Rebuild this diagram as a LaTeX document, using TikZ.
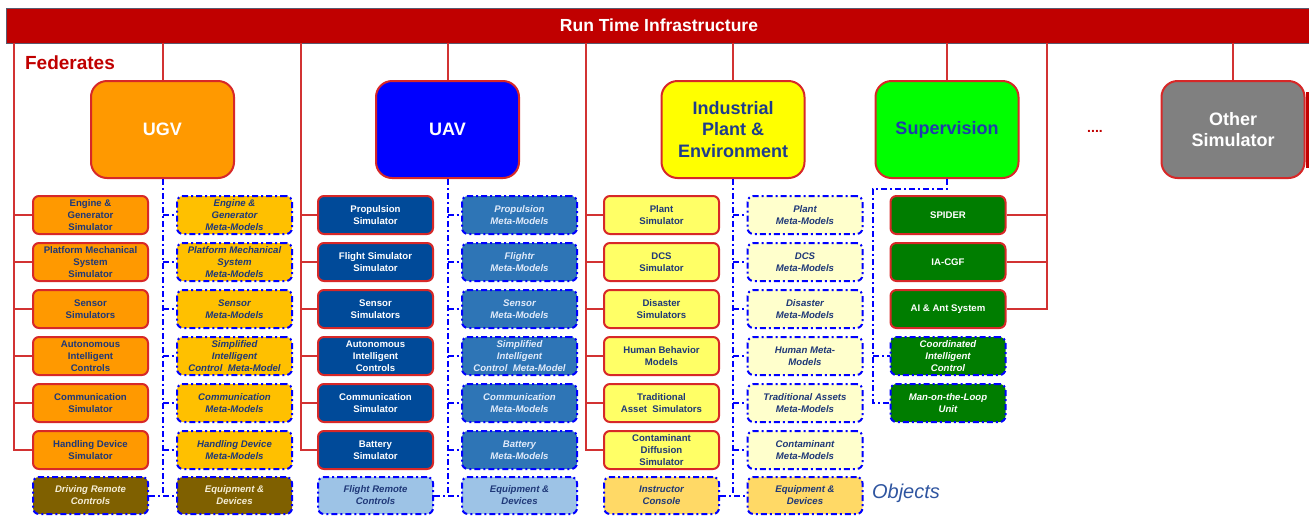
\documentclass[tikz,border=0pt]{standalone}
\usepackage{fontspec}
\setmainfont{Liberation Sans}
\usepackage{tikz}

\definecolor{rtired}{RGB}{192,0,0}
\definecolor{linered}{RGB}{210,50,50}
\definecolor{boxred}{RGB}{215,40,40}
\definecolor{txtblue}{RGB}{31,56,120}
\definecolor{objblue}{RGB}{47,85,160}
\definecolor{ugvorange}{RGB}{255,153,0}
\definecolor{ugvmeta}{RGB}{255,192,0}
\definecolor{ugvobj}{RGB}{127,96,0}
\definecolor{uavtop}{RGB}{0,0,255}
\definecolor{uavsim}{RGB}{0,74,153}
\definecolor{uavmeta}{RGB}{46,117,182}
\definecolor{uavobj}{RGB}{157,195,230}
\definecolor{indtop}{RGB}{255,255,0}
\definecolor{indsim}{RGB}{255,255,102}
\definecolor{indmeta}{RGB}{255,255,204}
\definecolor{indobj}{RGB}{255,217,102}
\definecolor{suptop}{RGB}{0,255,0}
\definecolor{supgreen}{RGB}{0,125,0}
\definecolor{othgray}{RGB}{128,128,128}

\tikzset{
	rtibar/.style = {fill=rtired, draw={rgb,255:red,90;green,90;blue,110}, line width=0.8pt,
		minimum width=1306pt, minimum height=35pt, text=white,
		font=\fontsize{17.5}{20}\selectfont\bfseries},
	fedbox/.style = {draw=boxred, line width=2pt, rounded corners=16pt, minimum width=143pt,
		minimum height=97pt, align=center, font=\fontsize{18}{21.5}\selectfont\bfseries},
	simbox/.style = {draw=boxred, line width=2pt, rounded corners=6pt, minimum width=115pt,
		minimum height=38pt, inner sep=1pt, align=center, text=txtblue,
		font=\fontsize{9.6}{12}\selectfont\bfseries},
	metabox/.style = {simbox, draw=blue, dash pattern=on 6pt off 3pt on 2pt off 3pt,
		font=\fontsize{9.6}{12}\selectfont\bfseries\itshape},
	objbox/.style = {metabox, minimum height=37pt},
	redline/.style = {draw=linered, line width=2pt},
	blueline/.style = {draw=blue, line width=2pt, dash pattern=on 6pt off 3pt on 2pt off 3pt}
}

\begin{document}
\begin{tikzpicture}[x=1pt, y=-1pt]
	\useasboundingbox (0,0) rectangle (1309,515);
	\def \rowy {215}
	\def \rowh {47}
	
	\node[rtibar] (rti) at (659,25.5) {Run Time Infrastructure};
	\node[text=rtired, font=\fontsize{19}{22}\selectfont\bfseries] (fed) at (70,63) {Federates};
	\node[text=objblue, font=\fontsize{20}{22}\selectfont\itshape] (obj) at (906,493) {Objects};
	\node[text=rtired, font=\fontsize{14}{16}\selectfont\bfseries] (dots) at (1095,131) {....};
	\fill[rtired] (1306,92) rectangle (1312,168);
	
	% federates
	\node[fedbox, fill=ugvorange, text=white] (ugv) at (162.5,129.5) {UGV};
	\node[fedbox, fill=uavtop, text=white] (uav) at (447.5,129.5) {UAV};
	\node[fedbox, fill=indtop, text={rgb,255:red,30;green,60;blue,140}] (ind) at (733,129.5) {Industrial\\Plant \&\\Environment};
	\node[fedbox, fill=suptop, text={rgb,255:red,30;green,60;blue,170}] (sup) at (947,129.5) {Supervision};
	\node[fedbox, fill=othgray, text=white] (oth) at (1233,129.5) {Other\\Simulator};
	\foreach \f in {ugv,uav,ind,sup,oth}
		\draw[redline] (rti.south -| \f.north) -- (\f.north);
	
	% UGV
	\foreach \txt [count=\k] in {{Engine \&\\Generator\\Simulator}, {Platform Mechanical\\System\\Simulator},
		{Sensor\\Simulators}, {Autonomous\\Intelligent\\Controls}, {Communication\\Simulator}, {Handling Device\\Simulator}}
		\node[simbox, fill=ugvorange] (ugvs\k) at (90.5,{\rowy+\rowh*(\k-1)}) {\txt};
	\foreach \txt [count=\k] in {{Engine \&\\Generator\\Meta-Models}, {Platform Mechanical\\System\\Meta-Models},
		{Sensor\\Meta-Models}, {Simplified\\Intelligent\\Control~~Meta-Model}, {Communication\\Meta-Models}, {Handling Device\\Meta-Models}}
		\node[metabox, fill=ugvmeta] (ugvm\k) at (234.5,{\rowy+\rowh*(\k-1)}) {\txt};
	\node[objbox, fill=ugvobj, text={rgb,255:red,245;green,238;blue,215}] (ugvo1) at (90.5,495.5) {Driving Remote\\Controls};
	\node[objbox, fill=ugvobj, text={rgb,255:red,245;green,238;blue,215}] (ugvo2) at (234.5,495.5) {Equipment \&\\Devices};
	
	% UAV
	\foreach \txt [count=\k] in {{Propulsion\\Simulator}, {Flight Simulator\\Simulator}, {Sensor\\Simulators},
		{Autonomous\\Intelligent\\Controls}, {Communication\\Simulator}, {Battery\\Simulator}}
		\node[simbox, fill=uavsim, text=white] (uavs\k) at (375.5,{\rowy+\rowh*(\k-1)}) {\txt};
	\foreach \txt [count=\k] in {{Propulsion\\Meta-Models}, {Flightr\\Meta-Models}, {Sensor\\Meta-Models},
		{Simplified\\Intelligent\\Control~~Meta-Model}, {Communication\\Meta-Models}, {Battery\\Meta-Models}}
		\node[metabox, fill=uavmeta, text={rgb,255:red,225;green,235;blue,250}] (uavm\k) at (519.5,{\rowy+\rowh*(\k-1)}) {\txt};
	\node[objbox, fill=uavobj] (uavo1) at (375.5,495.5) {Flight Remote\\Controls};
	\node[objbox, fill=uavobj] (uavo2) at (519.5,495.5) {Equipment \&\\Devices};
	
	% industrial plant
	\foreach \txt [count=\k] in {{Plant\\Simulator}, {DCS\\Simulator}, {Disaster\\Simulators},
		{Human Behavior\\Models}, {Traditional\\Asset~~Simulators}, {Contaminant\\Diffusion\\Simulator}}
		\node[simbox, fill=indsim] (inds\k) at (661.5,{\rowy+\rowh*(\k-1)}) {\txt};
	\foreach \txt [count=\k] in {{Plant\\Meta-Models}, {DCS\\Meta-Models}, {Disaster\\Meta-Models},
		{Human Meta-\\Models}, {Traditional Assets\\Meta-Models}, {Contaminant\\Meta-Models}}
		\node[metabox, fill=indmeta] (indm\k) at (805,{\rowy+\rowh*(\k-1)}) {\txt};
	\node[objbox, fill=indobj] (indo1) at (661.5,495.5) {Instructor\\Console};
	\node[objbox, fill=indobj] (indo2) at (805,495.5) {Equipment \&\\Devices};
	
	% supervision
	\foreach \txt [count=\k] in {SPIDER, IA-CGF, {AI \& Ant System}}
		\node[simbox, fill=supgreen, text=white] (sups\k) at (948,{\rowy+\rowh*(\k-1)}) {\txt};
	\node[metabox, fill=supgreen, text=white] (supm1) at (948,356) {Coordinated\\Intelligent\\Control};
	\node[metabox, fill=supgreen, text=white] (supm2) at (948,403) {Man-on-the-Loop\\Unit};
	
	% red buses
	\coordinate (ugvbus) at (14,0);
	\coordinate (uavbus) at (301,0);
	\coordinate (indbus) at (586,0);
	\coordinate (supbus) at (1047,0);
	\foreach \c in {ugv,uav,ind} {
		\draw[redline] (rti.south -| \c bus) |- (\c s6.west);
		\foreach \k in {1,...,5}
			\draw[redline] (\c bus |- \c s\k.west) -- (\c s\k.west);
	}
	\draw[redline] (rti.south -| supbus) |- (sups3.east);
	\foreach \k in {1,2}
		\draw[redline] (sups\k.east) -- (supbus |- sups\k.east);
	
	% meta-model links
	\foreach \c in {ugv,uav,ind} {
		\draw[blueline] (\c.south) -- (\c.south |- \c o2.west);
		\foreach \k in {1,...,6}
			\draw[blueline] (\c.south |- \c m\k.west) -- (\c m\k.west);
		\draw[blueline] (\c o1.east) -- (\c o2.west);
	}
	\coordinate (supc) at (873,189);
	\draw[blueline] (sup.south) |- (supc) |- (supm2.west);
	\draw[blueline] (supc |- supm1.west) -- (supm1.west);
\end{tikzpicture}
\end{document}
